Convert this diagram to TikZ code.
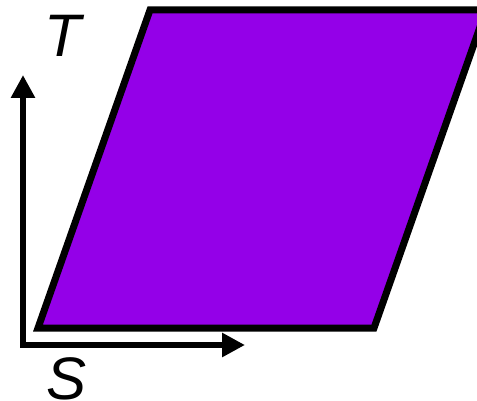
\documentclass[tikz,border=0pt]{standalone}
\usepackage{fontspec}
\newfontfamily\labfont{Liberation Sans}
\usetikzlibrary{arrows.meta}
\definecolor{shapepurple}{RGB}{148,0,232}

\begin{document}
\begin{tikzpicture}[
x=1pt,y=-1pt,
region/.style={draw=black,fill=shapepurple,line width=7pt,line join=miter},
axis/.style={line width=6pt,line join=miter,{Triangle[length=23pt,width=23pt]}-{Triangle[length=23pt,width=23pt]}},
lab/.style={font=\labfont\itshape\fontsize{60}{72}\selectfont,inner sep=0pt,anchor=base}
]
\useasboundingbox (0,0) rectangle (477,401);

% parallelogram
\draw[region] (38,328) -- (374,328) -- (486,10) -- (150,10) -- cycle;

% axes
\coordinate (origin) at (23,345);
\coordinate (tend) at (23,75);
\coordinate (send) at (245,345);
\draw[axis] (tend) -- (origin) -- (send);

\node[lab] (tlab) at (63,57) {T};
\node[lab] (slab) at (67,399) {S};

\end{tikzpicture}
\end{document}
